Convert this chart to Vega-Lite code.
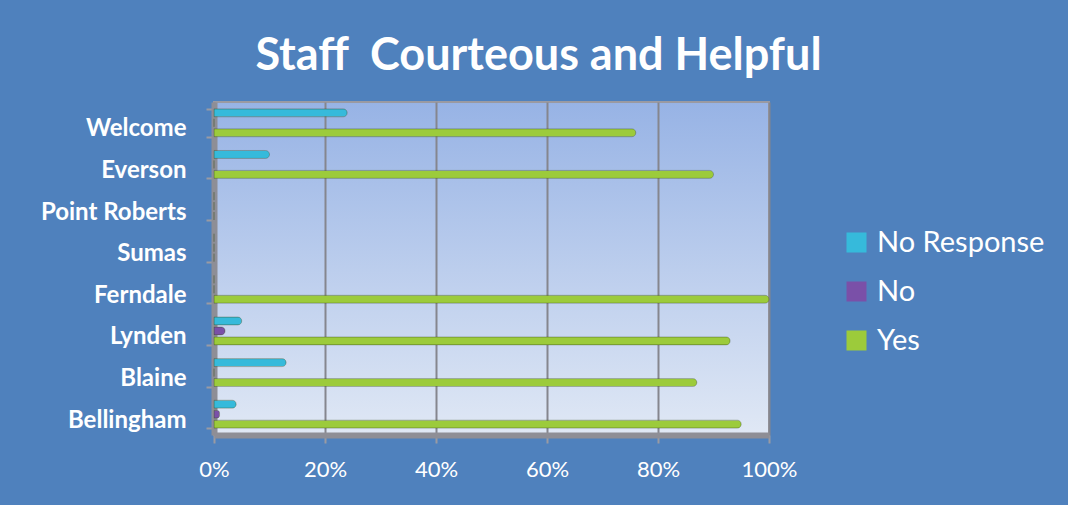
{
  "$schema": "https://vega.github.io/schema/vega-lite/v6.json",
  "width": 555,
  "height": 333,
  "autosize": {"type": "none"},
  "padding": {"left": 214, "top": 102, "right": 299, "bottom": 70},
  "background": "#4F81BD",
  "title": {
    "text": "Staff\u00a0 Courteous and Helpful",
    "font": "Lato",
    "fontSize": 45,
    "fontWeight": "bold",
    "color": "white",
    "anchor": "middle",
    "dx": 47,
    "offset": 11
  },
  "data": {
    "values": [
      {"site": "Welcome", "response": "No Response", "pct": 0.24},
      {"site": "Welcome", "response": "No", "pct": 0.0},
      {"site": "Welcome", "response": "Yes", "pct": 0.76},
      {"site": "Everson", "response": "No Response", "pct": 0.10},
      {"site": "Everson", "response": "No", "pct": 0.0},
      {"site": "Everson", "response": "Yes", "pct": 0.90},
      {"site": "Point Roberts", "response": "No Response", "pct": 0.0},
      {"site": "Point Roberts", "response": "No", "pct": 0.0},
      {"site": "Point Roberts", "response": "Yes", "pct": 0.0},
      {"site": "Sumas", "response": "No Response", "pct": 0.0},
      {"site": "Sumas", "response": "No", "pct": 0.0},
      {"site": "Sumas", "response": "Yes", "pct": 0.0},
      {"site": "Ferndale", "response": "No Response", "pct": 0.0},
      {"site": "Ferndale", "response": "No", "pct": 0.0},
      {"site": "Ferndale", "response": "Yes", "pct": 1.0},
      {"site": "Lynden", "response": "No Response", "pct": 0.05},
      {"site": "Lynden", "response": "No", "pct": 0.02},
      {"site": "Lynden", "response": "Yes", "pct": 0.93},
      {"site": "Blaine", "response": "No Response", "pct": 0.13},
      {"site": "Blaine", "response": "No", "pct": 0.0},
      {"site": "Blaine", "response": "Yes", "pct": 0.87},
      {"site": "Bellingham", "response": "No Response", "pct": 0.04},
      {"site": "Bellingham", "response": "No", "pct": 0.01},
      {"site": "Bellingham", "response": "Yes", "pct": 0.95}
    ]
  },
  "mark": {"type": "bar", "cornerRadiusEnd": 4, "stroke": "#3F4F20", "strokeOpacity": 0.3, "strokeWidth": 1},
  "encoding": {
    "y": {
      "field": "site",
      "type": "nominal",
      "sort": ["Welcome", "Everson", "Point Roberts", "Sumas", "Ferndale", "Lynden", "Blaine", "Bellingham"],
      "scale": {"paddingInner": 0.33, "paddingOuter": 0.165},
      "axis": {
        "title": null,
        "labelFont": "Lato",
        "labelFontSize": 24,
        "labelFontWeight": "bold",
        "labelColor": "white",
        "labelPadding": 20,
        "labelOffset": 6,
        "tickBand": "extent",
        "tickOffset": 3,
        "tickColor": "#9A9AA2",
        "tickSize": 8,
        "tickWidth": 2,
        "domainColor": "#8E8E96",
        "domainWidth": 6
      }
    },
    "yOffset": {
      "field": "response",
      "type": "nominal",
      "sort": ["No Response", "No", "Yes"],
      "scale": {"paddingInner": 0.2, "paddingOuter": 0}
    },
    "x": {
      "field": "pct",
      "type": "quantitative",
      "scale": {"domain": [0, 1], "nice": false},
      "axis": {
        "title": null,
        "values": [0, 0.2, 0.4, 0.6, 0.8, 1],
        "format": ".0%",
        "labelFont": "Lato",
        "labelFontSize": 22,
        "labelColor": "white",
        "labelPadding": 16,
        "labelFlush": false,
        "tickColor": "#9A9AA2",
        "tickSize": 8,
        "tickWidth": 2,
        "domainColor": "#8E8E96",
        "domainWidth": 6,
        "grid": true,
        "gridColor": "#85868E",
        "gridWidth": 2
      }
    },
    "color": {
      "field": "response",
      "type": "nominal",
      "scale": {
        "domain": ["No Response", "No", "Yes"],
        "range": ["#36BADB", "#7A50A8", "#9CCB3B"]
      },
      "legend": {
        "title": null,
        "orient": "none",
        "legendX": 628,
        "legendY": 126,
        "symbolType": "square",
        "symbolSize": 400,
        "symbolStrokeWidth": 0,
        "labelFont": "Lato",
        "labelFontSize": 29,
        "labelColor": "white",
        "labelOffset": 6,
        "labelLimit": 400,
        "rowPadding": 19,
        "padding": 0
      }
    }
  },
  "config": {
    "view": {
      "fill": {"gradient": "linear", "x1": 0, "y1": 0, "x2": 0, "y2": 1, "stops": [{"offset": 0, "color": "#97B3E5"}, {"offset": 1, "color": "#E0E8F5"}]},
      "stroke": "#9A9AA2",
      "strokeWidth": 2
    }
  }
}
